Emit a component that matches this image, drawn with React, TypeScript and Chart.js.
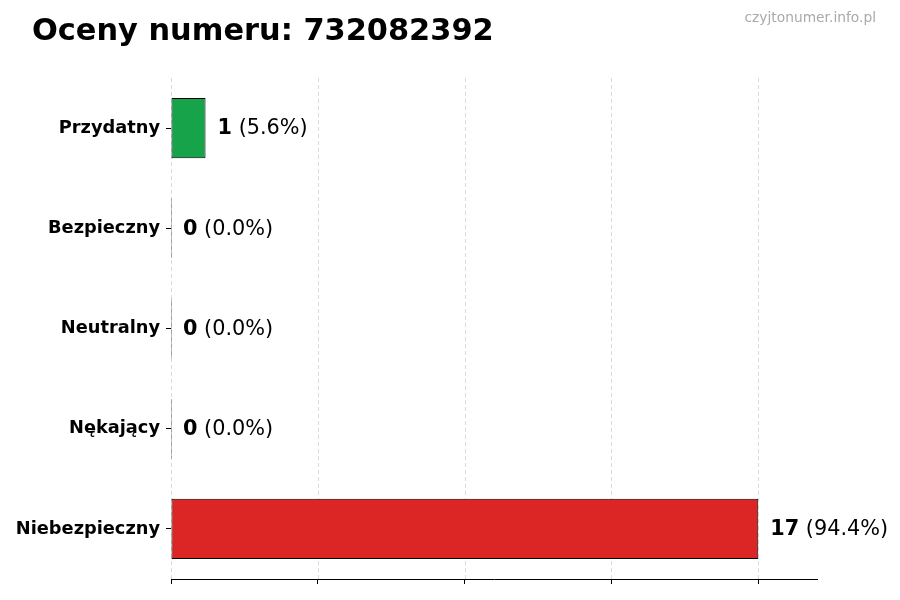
import React, { useEffect, useRef } from "react";
import { Chart, registerables } from "chart.js";

Chart.register(...registerables);

const categories = ["Przydatny", "Bezpieczny", "Neutralny", "Nękający", "Niebezpieczny"];
const counts = [1, 0, 0, 0, 17];
const barColors = ["#16a34a", "#2563eb", "#6b7280", "#ea580c", "#dc2626"];
const gridTicks = [0, 4.25, 8.5, 12.75, 17];
const xMax = 18.7;
const titleText = "Oceny numeru: 732082392";
const watermarkText = "czyjtonumer.info.pl";

const FONT = "'DejaVu Sans', sans-serif";

export default function App() {
  const canvasRef = useRef<HTMLCanvasElement | null>(null);

  useEffect(() => {
    if (!canvasRef.current) return;
    const total = counts.reduce((a, b) => a + b, 0);

    const gridPlugin = {
      id: "dashedGrid",
      beforeDatasetsDraw(chart: any) {
        const { ctx, chartArea, scales } = chart;
        ctx.save();
        ctx.strokeStyle = "#d0d0d0";
        ctx.lineWidth = 0.8;
        ctx.setLineDash([4, 3]);
        for (const v of gridTicks) {
          const x = Math.round(scales.x.getPixelForValue(v)) + 0.5;
          ctx.beginPath();
          ctx.moveTo(x, chartArea.top);
          ctx.lineTo(x, chartArea.bottom);
          ctx.stroke();
        }
        ctx.restore();
      },
    };

    const labelPlugin = {
      id: "valueLabels",
      afterDatasetsDraw(chart: any) {
        const { ctx, scales } = chart;
        const meta = chart.getDatasetMeta(0);
        ctx.save();
        ctx.textBaseline = "middle";
        ctx.textAlign = "left";
        ctx.fillStyle = "#000";
        meta.data.forEach((bar: any, i: number) => {
          const v = counts[i];
          const x = scales.x.getPixelForValue(v) + 12;
          const y = bar.y + 1;
          const boldText = String(v);
          const pct = total ? (v / total) * 100 : 0;
          const rest = " (" + pct.toFixed(1) + "%)";
          ctx.font = "bold 20.8px " + FONT;
          ctx.fillText(boldText, x, y);
          const w = ctx.measureText(boldText).width;
          ctx.font = "20.8px " + FONT;
          ctx.fillText(rest, x + w, y);
        });
        ctx.restore();
      },
    };

    const chart = new Chart(canvasRef.current, {
      type: "bar",
      data: {
        labels: categories,
        datasets: [
          {
            data: counts,
            backgroundColor: barColors,
            borderColor: "#000",
            borderWidth: 1,
            borderSkipped: false,
            barPercentage: 0.6,
            categoryPercentage: 1,
            minBarLength: 1,
          },
        ],
      },
      options: {
        indexAxis: "y",
        animation: false,
        responsive: false,
        maintainAspectRatio: false,
        layout: { padding: { top: 78, right: 83, bottom: 0, left: 0 } },
        plugins: {
          legend: { display: false },
          tooltip: { enabled: false },
          title: { display: false },
        },
        scales: {
          x: {
            type: "linear",
            min: 0,
            max: xMax,
            afterBuildTicks(scale: any) {
              scale.ticks = gridTicks.map((v) => ({ value: v }));
            },
            afterFit(scale: any) {
              scale.height = 21;
            },
            ticks: { display: false },
            grid: {
              display: true,
              drawOnChartArea: false,
              drawTicks: true,
              tickLength: 5,
              tickColor: "#000",
              tickWidth: 1,
            },
            border: { display: true, color: "#000", width: 1 },
          },
          y: {
            type: "category",
            afterFit(scale: any) {
              scale.width = 171;
            },
            ticks: {
              color: "#000",
              padding: 6,
              font: { family: FONT, size: 17.8, weight: "bold" },
            },
            grid: {
              display: true,
              offset: false,
              drawOnChartArea: false,
              drawTicks: true,
              tickLength: 5,
              tickColor: "#000",
              tickWidth: 1,
            },
            border: { display: false },
          },
        },
      } as any,
      plugins: [gridPlugin, labelPlugin],
    });

    return () => chart.destroy();
  }, []);

  return (
    <div
      style={{
        position: "fixed",
        left: 0,
        top: 0,
        width: 900,
        height: 600,
        background: "#fff",
        fontFamily: FONT,
      }}
    >
      <canvas ref={canvasRef} width={900} height={600} style={{ position: "absolute", left: 0, top: 0, width: 900, height: 600 }} />
      <div
        style={{
          position: "absolute",
          left: 32,
          top: 15,
          fontSize: 30.4,
          lineHeight: "30px",
          fontWeight: "bold",
          color: "#000",
          whiteSpace: "nowrap",
        }}
      >
        {titleText}
      </div>
      <div
        style={{
          position: "absolute",
          right: 24,
          top: 10.5,
          fontSize: 13.8,
          lineHeight: "13.5px",
          color: "#aaaaaa",
          whiteSpace: "nowrap",
        }}
      >
        {watermarkText}
      </div>
    </div>
  );
}
